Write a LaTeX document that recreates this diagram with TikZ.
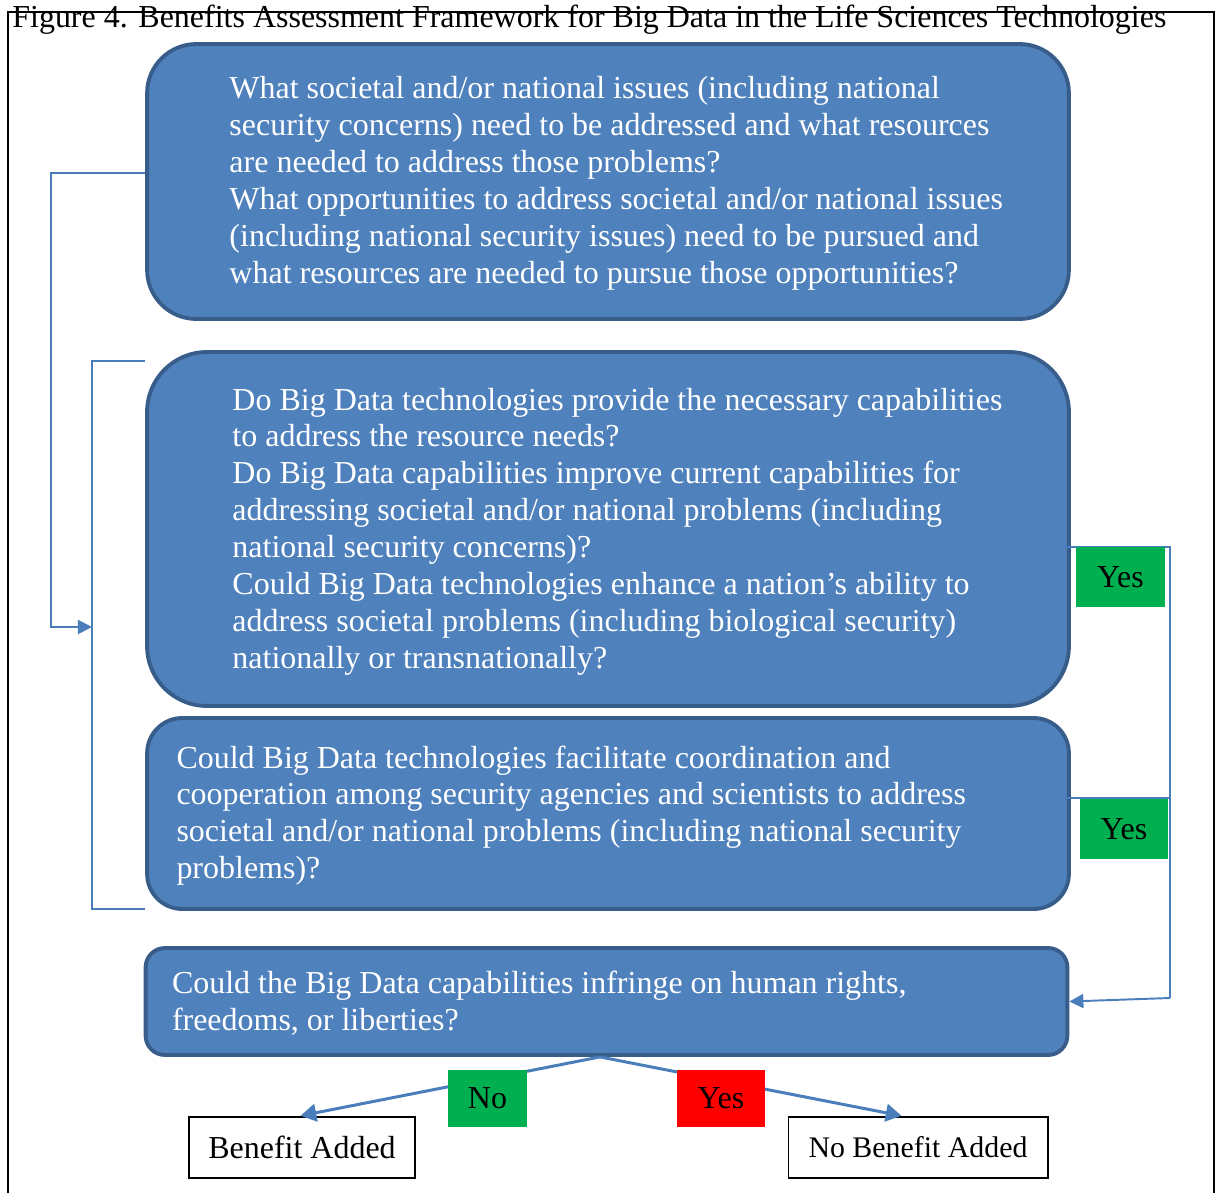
\documentclass[tikz,border=0pt]{standalone}
\usepackage{fontspec}
\setmainfont{Liberation Serif}
\usetikzlibrary{arrows.meta}
\definecolor{boxblue}{HTML}{4F81BD}
\definecolor{boxedge}{HTML}{385D8A}
\definecolor{linkblue}{HTML}{4A7EBB}
\definecolor{yesgreen}{HTML}{00B050}
\definecolor{nored}{HTML}{FF0000}
\tikzset{
  question/.style={draw=boxedge, fill=boxblue, line width=2.2pt, minimum width=18.44cm, inner sep=0pt},
  qtext/.style={anchor=west, inner sep=0pt, text=white, align=left, font=\fontsize{18.2}{21}\selectfont},
  link/.style={draw=linkblue, line width=1.1pt},
  bigarrow/.style={draw=linkblue, line width=1.7pt, -{Triangle[length=9pt,width=10pt]}},
  answer/.style={fill=#1, minimum height=1.2cm, inner sep=0pt, font=\fontsize{18.2}{21}\selectfont},
  outcome/.style={draw, line width=0.6pt, minimum height=1.22cm, inner sep=0pt, font=\fontsize{18.2}{21}\selectfont},
}
\begin{document}
\begin{tikzpicture}[x=0.02cm, y=-0.02cm]
\useasboundingbox (0,0) rectangle (1215,1193);
\draw[line width=0.6pt] (8,1210) -- (8,12) -- (1214,12) -- (1214,1210);
\node[anchor=base west, inner sep=0pt, font=\fontsize{18.2}{21}\selectfont] (title) at (12,28)
  {Figure 4. Benefits Assessment Framework for Big Data in the Life Sciences Technologies};

\node[question, minimum height=5.5cm, rounded corners=28pt] (q1) at (608,181.5) {};
\node[qtext] (q1t) at ([xshift=1.68cm,yshift=-0.04cm]q1.west) {What societal and/or national issues (including national\\
security concerns) need to be addressed and what resources\\
are needed to address those problems?\\
What opportunities to address societal and/or national issues\\
(including national security issues) need to be pursued and\\
what resources are needed to pursue those opportunities?};

\node[question, minimum height=7.08cm, rounded corners=34pt] (q2) at (608,529) {};
\node[qtext] (q2t) at ([xshift=1.74cm,yshift=-0.05cm]q2.west) {Do Big Data technologies provide the necessary capabilities\\
to address the resource needs?\\
Do Big Data capabilities improve current capabilities for\\
addressing societal and/or national problems (including\\
national security concerns)?\\
Could Big Data technologies enhance a nation’s ability to\\
address societal problems (including biological security)\\
nationally or transnationally?};

\node[question, minimum height=3.82cm, rounded corners=20pt] (q3) at (608,813.5) {};
\node[qtext] (q3t) at ([xshift=0.62cm,yshift=-0.04cm]q3.west) {Could Big Data technologies facilitate coordination and\\
cooperation among security agencies and scientists to address\\
societal and/or national problems (including national security\\
problems)?};

\node[question, minimum height=2.14cm, rounded corners=11pt] (q4) at (606.5,1001.5) {};
\node[qtext] (q4t) at ([xshift=0.56cm,yshift=-0.04cm]q4.west) {Could the Big Data capabilities infringe on human rights,\\
freedoms, or liberties?};

\node[outcome, minimum width=4.52cm] (ben) at (302,1147.5) {Benefit Added};
\node[outcome, minimum width=5.2cm, font=\fontsize{17}{21}\selectfont] (noben) at (918,1147.5) {No Benefit Added};

\coordinate (lp) at (51,627);
\coordinate (bkin) at (92,627);
\coordinate (bkt) at (92,361);
\coordinate (bkb) at (92,909);
\coordinate (rt) at (1170,547);
\coordinate (rm) at (1170,798);
\coordinate (rb) at (1170,998);

\draw[link, -{Triangle[length=8pt,width=8pt]}] ([yshift=0.17cm]q1.west) -| (lp) -- (bkin);
\draw[link] (bkt -| q2.west) -- (bkt) -- (bkb) -- (bkb -| q3.west);
\draw[link] ([xshift=-0.2cm,yshift=-0.36cm]q2.east) -- (rt) -- (rb);
\draw[link] ([xshift=-0.2cm,yshift=0.31cm]q3.east) -- (rm);
\draw[link, -{Triangle[length=8pt,width=8pt]}] (rb) -- (q4.east);
\draw[bigarrow, shorten >=2pt] ([xshift=-0.13cm]q4.south) -- ([xshift=-0.1cm]ben.north);
\draw[bigarrow, shorten >=2pt] ([xshift=-0.13cm]q4.south) -- ([xshift=-0.26cm]noben.north);

\node[answer=yesgreen, minimum width=1.78cm] (yes1) at (1120.5,577) {Yes};
\node[answer=yesgreen, minimum width=1.76cm] (yes2) at (1124,829) {Yes};
\node[answer=yesgreen, minimum width=1.58cm, minimum height=1.14cm] (no) at (487.5,1098.5) {No};
\node[answer=nored, minimum width=1.76cm, minimum height=1.14cm] (yes3) at (721,1098.5) {Yes};
\end{tikzpicture}
\end{document}
